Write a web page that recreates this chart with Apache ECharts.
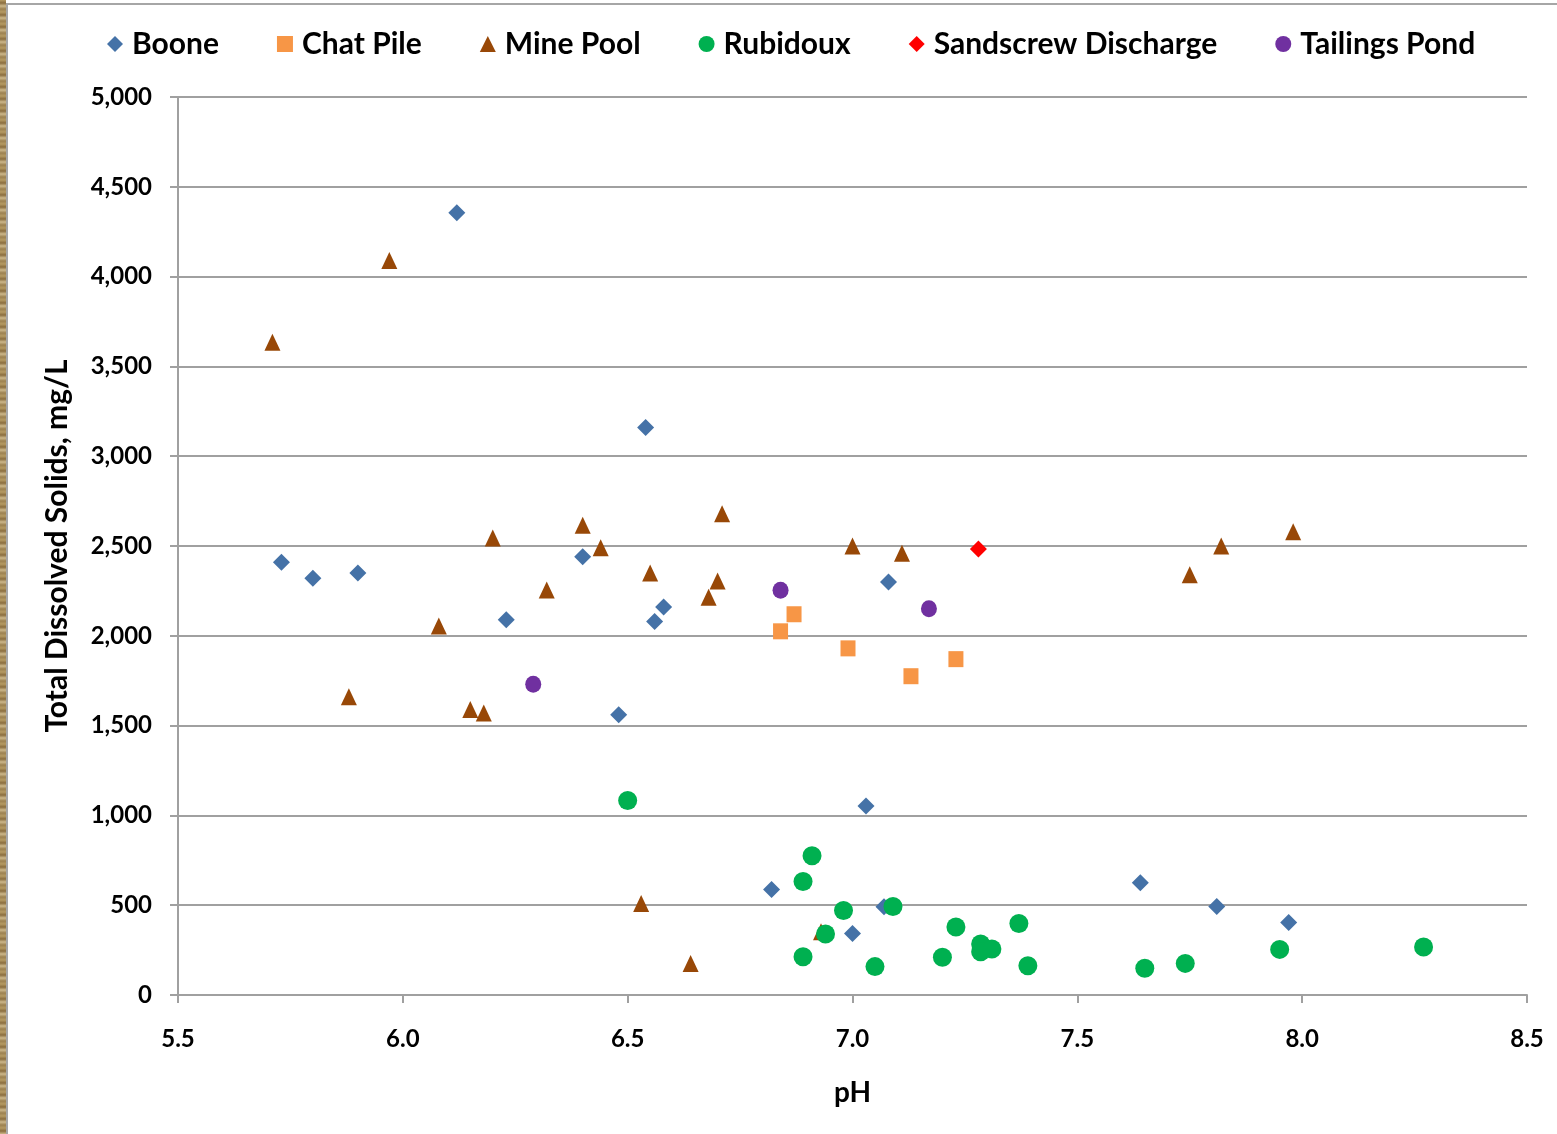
<!DOCTYPE html>
<html>
<head>
<meta charset="utf-8">
<script src="https://cdn.jsdelivr.net/npm/echarts@6/dist/echarts.min.js"></script>
<style>
  html, body { margin: 0; padding: 0; background: #fff; }
  #wrap { position: relative; width: 1557px; height: 1134px; overflow: hidden; background: #fff; }
  #strip { position: absolute; left: 0; top: 0; width: 6px; height: 1134px;
    background: repeating-linear-gradient(180deg, #b59a62 0px, #8a6d3e 3px, #cdb88a 6px, #9c8150 9px, #b59a62 12px); }
  #topline { position: absolute; left: 6px; top: 3px; width: 1551px; height: 2px; background: #a6a6a6; }
  #leftline { position: absolute; left: 6px; top: 3px; width: 2px; height: 1131px; background: #a6a6a6; }
  #chart { position: absolute; left: 0; top: 0; width: 1557px; height: 1134px; }
</style>
</head>
<body>
<div id="wrap">
  <div id="strip"></div>
  <div id="topline"></div>
  <div id="leftline"></div>
  <div id="chart"></div>
</div>
<script>
// ---- Data (pH, Total Dissolved Solids mg/L) ----
const seriesNames = ["Boone", "Chat Pile", "Mine Pool", "Rubidoux", "Sandscrew Discharge", "Tailings Pond"];

const boonePH  = [5.73, 5.80, 5.90, 6.12, 6.23, 6.40, 6.48, 6.54, 6.56, 6.58, 6.82, 7.00, 7.03, 7.07, 7.08, 7.64, 7.81, 7.97];
const booneTDS = [2410, 2320, 2350, 4355, 2090, 2440, 1560, 3160, 2080, 2160, 588, 342, 1052, 492, 2300, 625, 493, 404];

const chatPH  = [6.84, 6.87, 6.99, 7.13, 7.23];
const chatTDS = [2025, 2120, 1930, 1775, 1870];

const minePH  = [5.71, 5.97, 5.88, 6.08, 6.15, 6.18, 6.20, 6.32, 6.40, 6.44, 6.53, 6.55, 6.64, 6.68, 6.70, 6.71, 6.93, 7.00, 7.11, 7.75, 7.82, 7.98];
const mineTDS = [3635, 4090, 1660, 2055, 1590, 1570, 2545, 2255, 2615, 2490, 510, 2350, 176, 2215, 2305, 2680, 352, 2500, 2460, 2340, 2500, 2580];

const rubiPH  = [6.50, 6.91, 6.89, 6.98, 7.09, 6.94, 6.89, 7.05, 7.20, 7.23, 7.285, 7.285, 7.31, 7.37, 7.39, 7.65, 7.74, 7.95, 8.27];
const rubiTDS = [1083, 775, 632, 470, 493, 340, 213, 158, 210, 379, 284, 241, 256, 398, 163, 149, 176, 254, 267];

const sandPH  = [7.28];
const sandTDS = [2483];

const tailPH  = [6.29, 6.84, 7.17];
const tailTDS = [1730, 2253, 2150];

const xTicks = { min: 5.5, max: 8.5, interval: 0.5 };
const yTicks = { min: 0, max: 5000, interval: 500 };

// ---- Build ----
function pairs(xs, ys) { return xs.map((x, i) => [x, ys[i]]); }

const FONT = 'Lato';
const styles = [
  { color: '#4572A7', symbol: 'diamond', size: 17 },
  { color: '#F79646', symbol: 'rect', size: [15, 16] },
  { color: '#984807', symbol: 'triangle', size: [16, 17] },
  { color: '#00B050', symbol: 'circle', size: 19 },
  { color: '#FF0000', symbol: 'diamond', size: 17 },
  { color: '#7030A0', symbol: 'circle', size: [16, 17] }
];
const dataSets = [
  pairs(boonePH, booneTDS),
  pairs(chatPH, chatTDS),
  pairs(minePH, mineTDS),
  pairs(rubiPH, rubiTDS),
  pairs(sandPH, sandTDS),
  pairs(tailPH, tailTDS)
];

const chart = echarts.init(document.getElementById('chart'), null, { renderer: 'canvas' });
const option = {
  animation: false,
  backgroundColor: 'transparent',
  textStyle: { fontFamily: FONT },
  legend: {
    left: 102,
    top: 24,
    itemGap: 58,
    itemWidth: 16,
    itemHeight: 16,
    textStyle: { fontFamily: FONT, fontWeight: 'bold', fontSize: 30, color: '#000', padding: [0, 0, 0, 4] },
    data: seriesNames.map((n, i) => ({ name: n, icon: styles[i].symbol }))
  },
  grid: { left: 178, right: 30, top: 97, bottom: 139, containLabel: false },
  xAxis: {
    type: 'value',
    min: xTicks.min, max: xTicks.max, interval: xTicks.interval,
    name: 'pH',
    nameLocation: 'middle',
    nameGap: 84,
    nameTextStyle: { fontFamily: FONT, fontWeight: 'bold', fontSize: 28, color: '#000' },
    axisLine: { show: true, onZero: false, lineStyle: { color: '#a0a0a0', width: 2 } },
    axisTick: { show: true, length: 8, lineStyle: { color: '#a0a0a0', width: 2 } },
    axisLabel: { margin: 32, fontFamily: FONT, fontWeight: 'bold', fontSize: 24, color: '#000',
      formatter: v => v.toFixed(1) },
    splitLine: { show: false }
  },
  yAxis: {
    type: 'value',
    min: yTicks.min, max: yTicks.max, interval: yTicks.interval,
    name: 'Total Dissolved Solids, mg/L',
    nameLocation: 'middle',
    nameGap: 106,
    nameRotate: 90,
    nameTextStyle: { fontFamily: FONT, fontWeight: 'bold', fontSize: 30, color: '#000' },
    axisLine: { show: true, lineStyle: { color: '#a0a0a0', width: 2 } },
    axisTick: { show: true, length: 8, lineStyle: { color: '#a0a0a0', width: 2 } },
    axisLabel: { margin: 26, fontFamily: FONT, fontWeight: 'bold', fontSize: 24, color: '#000',
      formatter: v => v.toLocaleString('en-US') },
    splitLine: { show: true, lineStyle: { color: '#a0a0a0', width: 2 } }
  },
  series: seriesNames.map((n, i) => ({
    name: n,
    type: 'scatter',
    symbol: styles[i].symbol,
    symbolSize: styles[i].size,
    itemStyle: { color: styles[i].color, opacity: 1 },
    emphasis: { disabled: true },
    data: dataSets[i]
  }))
};
chart.setOption(option);
</script>
</body>
</html>
